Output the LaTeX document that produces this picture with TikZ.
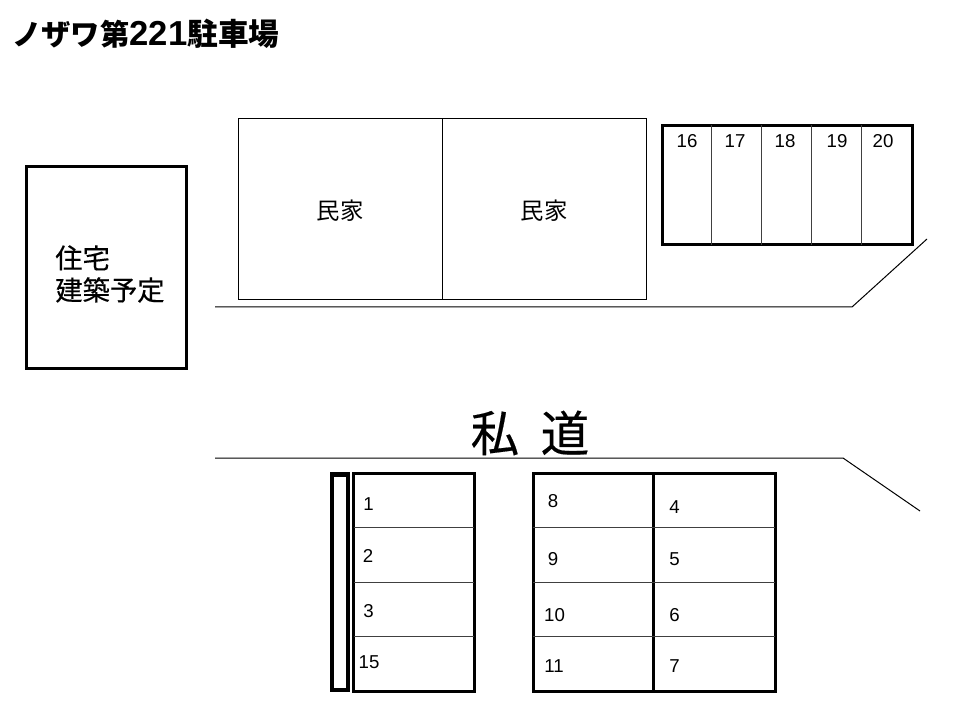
\documentclass[tikz,border=0pt]{standalone}
\usepackage{fontspec}
\setmainfont{Liberation Sans}
\newfontfamily\cjk{Noto Sans CJK JP}
\newfontfamily\cjkmed[FakeBold=0.35]{Noto Sans CJK JP}
\tikzset{x=0.75pt,y=-0.75pt,
  thin line/.style={draw=black,line width=0.75pt},
  grid line/.style={draw=black!75,line width=0.75pt},
  thick box/.style={draw=black,line width=2.25pt},
  num/.style={inner sep=0pt,font=\fontsize{14}{15}\selectfont},
  cjklabel/.style={inner sep=0pt,font=\cjk\fontsize{17.5}{20}\selectfont},
}
\begin{document}
\begin{tikzpicture}
\useasboundingbox[fill=white] (0,0) rectangle (960,720);
% title
\node[inner sep=0pt,anchor=west,font=\fontsize{26}{26}\selectfont\bfseries] (title) at (12,34) {{\cjk\fontsize{22}{26}\selectfont\bfseries ノザワ第}221{\cjk\fontsize{23}{26}\selectfont\bfseries 駐車場}};
% houses
\draw[thin line] (238,119) rectangle (646,300);
\draw[thin line] (442,119) -- (442,300);
\node[cjklabel] (h1) at (340,211) {民家};
\node[cjklabel] (h2) at (544,211) {民家};
% planned house
\draw[thick box] (26.5,167) rectangle (186,368);
\node[inner sep=0pt,anchor=west,font=\cjkmed\fontsize{20.5}{24}\selectfont,align=left] (plan) at (55,274) {住宅\\建築予定};
% top parking
\draw[thick box] (662,125.5) rectangle (912,245);
\foreach \x in {711.5,761.5,811.5,861.5} \draw[grid line] (\x,125.5) -- (\x,245);
\foreach \x/\t in {687/16,735/17,785/18,837/19,883/20} \node[num] (n\t) at (\x,141) {\t};
% roads
\coordinate (r1a) at (215,307); \coordinate (r1b) at (852,307); \coordinate (r1c) at (927,239);
\draw[thin line] (r1a) -- (r1b) -- (r1c);
\coordinate (r2a) at (215,458); \coordinate (r2b) at (843,458); \coordinate (r2c) at (920,511);
\draw[thin line] (r2a) -- (r2b) -- (r2c);
\node[inner sep=0pt,font=\cjkmed\fontsize{36.5}{40}\selectfont] (road) at (530,433) {私\hspace{16pt}道};
% lower left
\draw[line width=3.2pt] (332,474.5) rectangle (348,690);
\draw[thick box] (353.5,473.5) rectangle (474,691);
\foreach \y in {527.5,582,636.5} \draw[grid line] (353.5,\y) -- (474,\y);
\foreach \x/\y/\t in {368.5/504/1,368/556/2,368.5/611/3,369/662/15} \node[num] (n\t) at (\x,\y) {\t};
% lower right
\draw[thick box] (533,473.5) rectangle (775,691);
\draw[thick box] (653.5,473.5) -- (653.5,691);
\foreach \y in {527.5,582,636.5} \draw[grid line] (533,\y) -- (775,\y);
\foreach \x/\y/\t in {553/501/8,553/559/9,554.5/615/10,554/666/11,674.5/507/4,674.5/559/5,674.5/615/6,674.5/666/7} \node[num] (n\t) at (\x,\y) {\t};
\end{tikzpicture}
\end{document}
